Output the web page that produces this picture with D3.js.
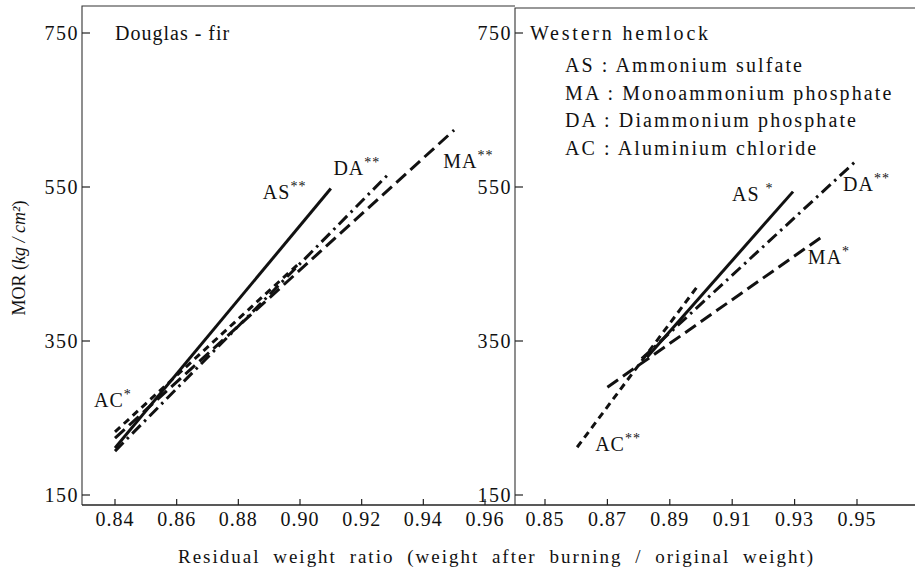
<!DOCTYPE html>
<html>
<head>
<meta charset="utf-8">
<script src="https://cdn.jsdelivr.net/npm/d3@7"></script>
<style>
  body { margin: 0; background: #fff; }
  svg { display: block; }
</style>
</head>
<body>
<div id="chart"></div>
<script>
// values
var yTicks = [150, 350, 550, 750];
var firTicks = [0.84, 0.86, 0.88, 0.90, 0.92, 0.94, 0.96];
var hemlockTicks = [0.85, 0.87, 0.89, 0.91, 0.93, 0.95];

var treatments = ["AS", "MA", "DA", "AC"];
var treatmentNames = ["Ammonium sulfate", "Monoammonium phosphate", "Diammonium phosphate", "Aluminium chloride"];

// regression lines: start and end of each (residual weight ratio, MOR)
var firRatio = [[0.84, 0.91], [0.84, 0.95], [0.84, 0.929], [0.84, 0.90]];
var firMOR = [[211, 548], [224, 624], [207, 568], [232, 452]];
var firSig = ["**", "**", "**", "*"];

var hemlockRatio = [[0.8827, 0.9295], [0.87, 0.9397], [0.881, 0.95], [0.8603, 0.8987]];
var hemlockMOR = [[329, 544], [290, 488], [327, 585], [212, 420]];
var hemlockSig = ["*", "*", "**", "**"];

var width = 915, height = 570;
var bottom = 505;
var ink = "#111";
var serif = "'Liberation Serif', 'Times New Roman', Tinos, serif";
var dashes = { AS: null, MA: "13,6", DA: "12,5,2.5,5", AC: "7,5" };

var svg = d3.select("#chart").append("svg")
  .attr("width", width)
  .attr("height", height)
  .style("font-family", serif)
  .style("fill", ink);

function txt (sel) {
  return sel.append("text").style("font-family", serif).style("fill", ink);
}

var y = d3.scaleLinear().domain([150, 750]).range([495, 33]);

function panel (opts) {
  var x = d3.scaleLinear().domain(opts.tickDomain).range(opts.tickRange);
  var g = svg.append("g");

  // frame: left, top and the bottom axis line
  g.append("path")
    .attr("d", "M" + opts.left + "," + bottom + "V" + opts.top + "H" + opts.right)
    .attr("fill", "none").attr("stroke", "#333").attr("stroke-width", 1.1);
  g.append("line")
    .attr("x1", opts.left).attr("x2", opts.right)
    .attr("y1", bottom).attr("y2", bottom)
    .attr("stroke", "#222").attr("stroke-width", 1.4);

  // y ticks point inwards
  g.selectAll(".yt").data(yTicks).enter().append("line")
    .attr("x1", opts.left).attr("x2", opts.left + 8)
    .attr("y1", function (d) { return y(d); })
    .attr("y2", function (d) { return y(d); })
    .attr("stroke", "#222").attr("stroke-width", 1.2);
  g.selectAll(".yl").data(yTicks).enter().append("text")
    .style("font-family", serif).style("fill", ink)
    .attr("x", opts.left - 3)
    .attr("y", function (d) { return y(d) + 7; })
    .attr("text-anchor", "end")
    .attr("font-size", 20)
    .attr("letter-spacing", 1.5)
    .text(function (d) { return d; });

  // x ticks point up
  g.selectAll(".xt").data(opts.ticks).enter().append("line")
    .attr("x1", function (d) { return x(d); })
    .attr("x2", function (d) { return x(d); })
    .attr("y1", bottom).attr("y2", bottom - 6)
    .attr("stroke", "#222").attr("stroke-width", 1.2);
  g.selectAll(".xl").data(opts.ticks).enter().append("text")
    .style("font-family", serif).style("fill", ink)
    .attr("x", function (d) { return x(d); })
    .attr("y", bottom + 21)
    .attr("text-anchor", "middle")
    .attr("font-size", 20)
    .attr("letter-spacing", 1)
    .text(function (d) { return d.toFixed(2); });

  var line = d3.line()
    .x(function (d) { return x(d[0]); })
    .y(function (d) { return y(d[1]); });

  var rows = treatments.map(function (t, i) {
    return {
      name: t,
      pts: [[opts.ratio[i][0], opts.mor[i][0]], [opts.ratio[i][1], opts.mor[i][1]]],
      sig: opts.sig[i],
      off: opts.labelOffsets[i]
    };
  });

  g.selectAll(".reg").data(rows).enter().append("path")
    .attr("d", function (d) { return line(d.pts); })
    .attr("fill", "none")
    .attr("stroke", ink)
    .attr("stroke-width", 3)
    .attr("stroke-dasharray", function (d) { return dashes[d.name]; });

  var labels = g.selectAll(".lab").data(rows).enter().append("text")
    .style("font-family", serif).style("fill", ink)
    .attr("x", function (d) { var p = d.pts[d.off[0]]; return x(p[0]) + d.off[1]; })
    .attr("y", function (d) { var p = d.pts[d.off[0]]; return y(p[1]) + d.off[2]; })
    .attr("font-size", 20)
    .attr("letter-spacing", 1);
  labels.append("tspan").text(function (d) { return d.name + (d.off[3] ? " " : ""); });
  labels.append("tspan")
    .attr("dy", -8)
    .attr("font-size", 14)
    .text(function (d) { return d.sig; });

  return g;
}

// label offsets: [which end, dx, dy, gap before stars]
var left = panel({
  left: 82, right: 515, top: 6,
  tickDomain: [0.84, 0.96], tickRange: [115, 485],
  ticks: firTicks, ratio: firRatio, mor: firMOR, sig: firSig,
  labelOffsets: [[1, -68, 10, 0], [1, -11, 38, 0], [1, -56, 2, 0], [0, -21, -25, 0]]
});
txt(left).attr("x", 115).attr("y", 40)
  .attr("font-size", 20).attr("letter-spacing", 1)
  .text("Douglas - fir");

var right = panel({
  left: 515, right: 915, top: 8,
  tickDomain: [0.85, 0.95], tickRange: [545, 857],
  ticks: hemlockTicks, ratio: hemlockRatio, mor: hemlockMOR, sig: hemlockSig,
  labelOffsets: [[1, -61, 9, 1], [1, -17, 29, 0], [1, -14, 31, 0], [0, 18, 4, 0]]
});
txt(right).attr("x", 530).attr("y", 40)
  .attr("font-size", 20).attr("letter-spacing", 2.8)
  .text("Western hemlock");
right.selectAll(".leg").data(treatments).enter().append("text")
  .style("font-family", serif).style("fill", ink)
  .attr("x", 565)
  .attr("y", function (d, i) { return 72 + i * 27.5; })
  .attr("font-size", 20)
  .attr("letter-spacing", 2.1)
  .text(function (d, i) { return d + " : " + treatmentNames[i]; });

// axis titles
txt(svg)
  .attr("x", 178).attr("y", 563)
  .attr("font-size", 19)
  .attr("word-spacing", 6)
  .attr("textLength", 635)
  .attr("lengthAdjust", "spacing")
  .text("Residual weight ratio (weight after burning / original weight)");

var yl = txt(svg)
  .attr("transform", "translate(25,258) rotate(-90)")
  .attr("text-anchor", "middle")
  .attr("font-size", 18);
yl.append("tspan").text("MOR (");
yl.append("tspan").attr("font-style", "italic").text("kg / cm²");
yl.append("tspan").text(")");
</script>
</body>
</html>
